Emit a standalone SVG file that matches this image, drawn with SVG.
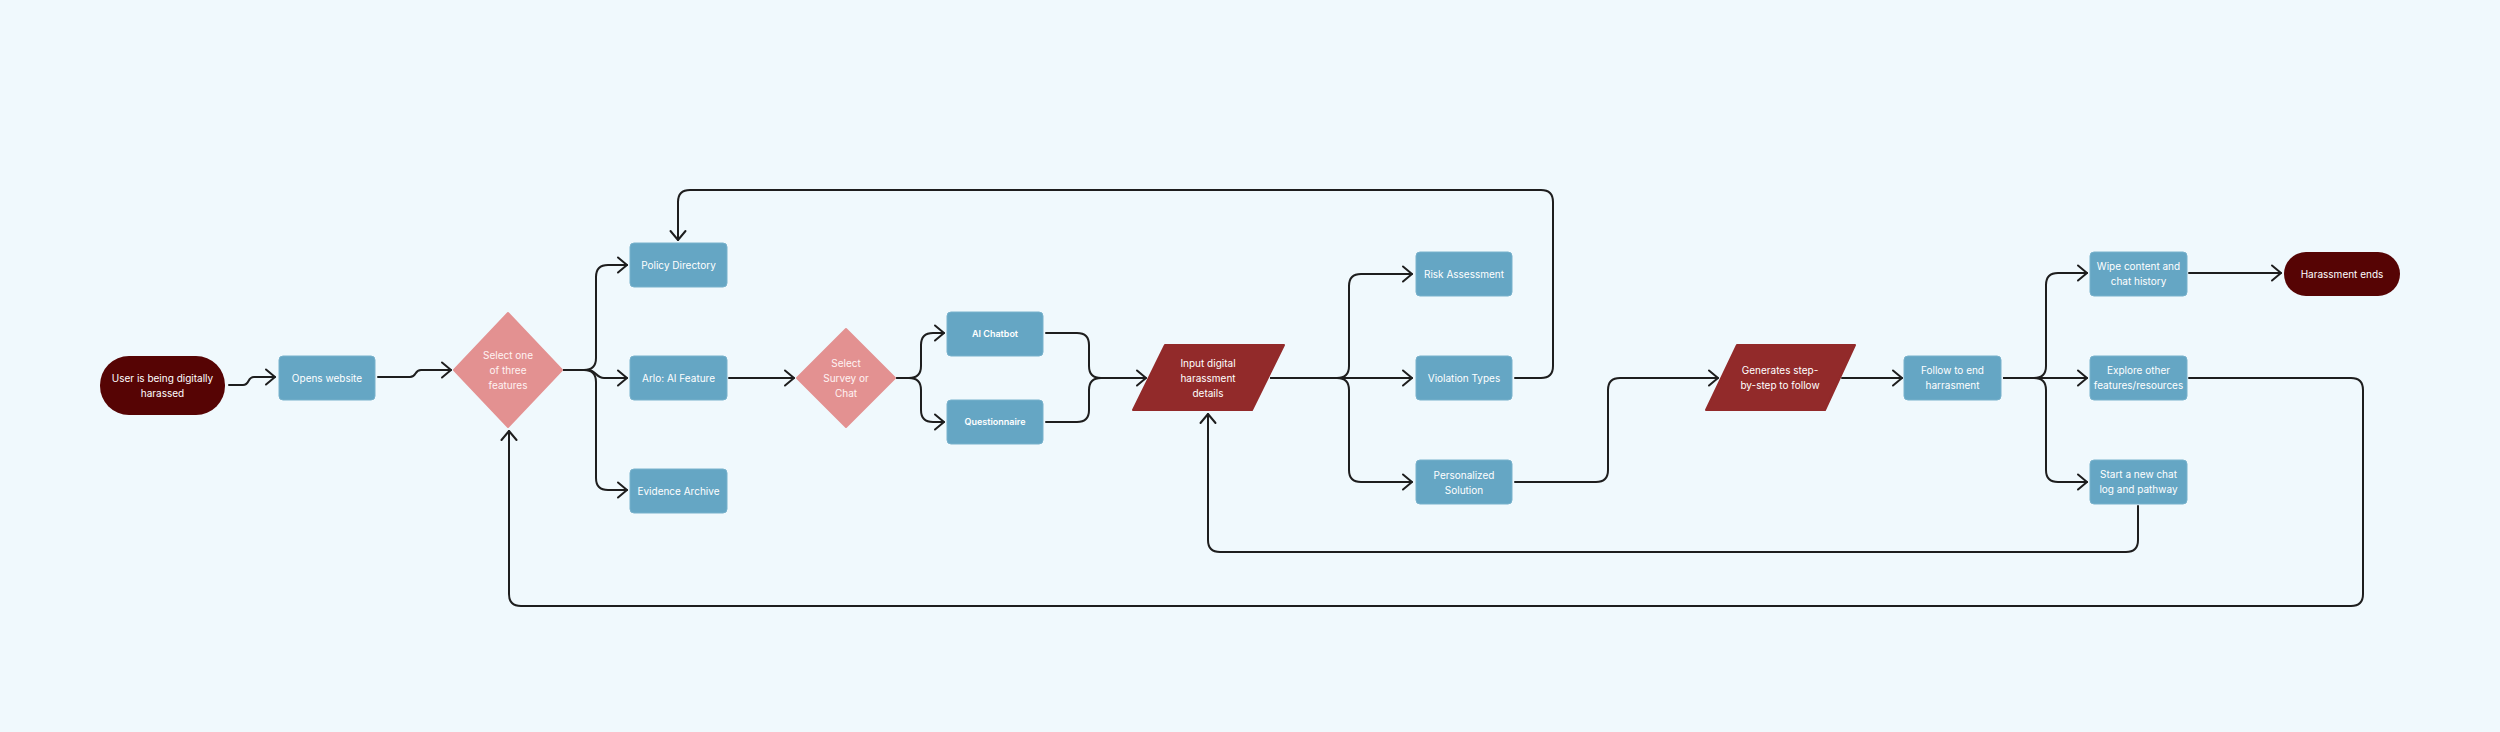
<svg xmlns="http://www.w3.org/2000/svg" width="2500" height="732" viewBox="0 0 2500 732">
<defs>
<marker id="arr" markerUnits="userSpaceOnUse" markerWidth="20" markerHeight="20" viewBox="-12 -10 14 20" refX="0" refY="0" orient="auto">
<path d="M -9 -7.5 L 0 0 L -9 7.5" fill="none" stroke="#1e1e1e" stroke-width="2" stroke-linecap="round" stroke-linejoin="round"/>
</marker>
</defs>
<style>
text{font-family:Inter,"Noto Sans","Liberation Sans",sans-serif;font-size:10px;fill:#ffffff;text-anchor:middle}
.box{fill:#65A6C4;stroke:#78B2CC;stroke-width:1}
.dia{fill:#E39191;stroke:#E39191;stroke-width:2;stroke-linejoin:round}
.par{fill:#922A2A;stroke:#922A2A;stroke-width:2;stroke-linejoin:round}
.term{fill:#560404}
.sm{font-size:9px;font-weight:600}
.dt{fill:#FFF3F3}
.c path{fill:none;stroke:#1e1e1e;stroke-width:2;stroke-linecap:round}
.a{marker-end:url(#arr)}
</style>
<rect width="2500" height="732" fill="#F0F9FD"/>
<g class="c" id="connectors">
<path class="a" d="M 229 385 H 243 C 250 385 247 377 254 377 H 275"/>
<path class="a" d="M 378 377 H 410 C 417 377 414 370 421 370 H 451"/>
<path class="a" d="M 564 370 H 584 Q 596 370 596 358 V 277 Q 596 265 608 265 H 627"/>
<path class="a" d="M 564 370 H 588 C 596 370 596 378 604 378 H 627"/>
<path class="a" d="M 564 370 H 584 Q 596 370 596 382 V 478 Q 596 490 608 490 H 627"/>
<path class="a" d="M 729 378 H 794"/>
<path class="a" d="M 897 378 H 909 Q 921 378 921 366 V 345 Q 921 333 933 333 H 944"/>
<path class="a" d="M 897 378 H 909 Q 921 378 921 390 V 410 Q 921 422 933 422 H 944"/>
<path d="M 1046 333 H 1077 Q 1089 333 1089 345 V 366 Q 1089 378 1101 378"/>
<path class="a" d="M 1046 422 H 1077 Q 1089 422 1089 410 V 390 Q 1089 378 1101 378 H 1146"/>
<path class="a" d="M 1271 378 H 1337 Q 1349 378 1349 366 V 286 Q 1349 274 1361 274 H 1412"/>
<path class="a" d="M 1271 378 H 1412"/>
<path class="a" d="M 1271 378 H 1337 Q 1349 378 1349 390 V 470 Q 1349 482 1361 482 H 1412"/>
<path class="a" d="M 1515 378 H 1541 Q 1553 378 1553 366 V 202 Q 1553 190 1541 190 H 690 Q 678 190 678 202 V 240"/>
<path class="a" d="M 1515 482 H 1596 Q 1608 482 1608 470 V 390 Q 1608 378 1620 378 H 1718"/>
<path class="a" d="M 1842 378 H 1902"/>
<path class="a" d="M 2004 378 H 2034 Q 2046 378 2046 366 V 285 Q 2046 273 2058 273 H 2087"/>
<path class="a" d="M 2004 378 H 2087"/>
<path class="a" d="M 2004 378 H 2034 Q 2046 378 2046 390 V 470 Q 2046 482 2058 482 H 2087"/>
<path class="a" d="M 2189 273 H 2281"/>
<path class="a" d="M 2189 378 H 2351 Q 2363 378 2363 390 V 594 Q 2363 606 2351 606 H 521 Q 509 606 509 594 V 431"/>
<path class="a" d="M 2138 506 V 540 Q 2138 552 2126 552 H 1220 Q 1208 552 1208 540 V 414"/>
</g>
<g id="start">
<rect class="term" x="100" y="356" width="125" height="59" rx="29"/>
<text x="162.5" y="381.5">User is being digitally</text>
<text x="162.5" y="396.5">harassed</text>
</g>
<g id="opens">
<rect class="box" x="279" y="356" width="96" height="44" rx="4"/>
<text x="327" y="381.5">Opens website</text>
</g>
<g id="select-feature">
<polygon class="dia" points="508,313 562,370 508,427 454,370"/>
<text class="dt" x="508" y="359">Select one</text>
<text class="dt" x="508" y="373.5">of three</text>
<text class="dt" x="508" y="388.5">features</text>
</g>
<g id="policy">
<rect class="box" x="630" y="243" width="97" height="44" rx="4"/>
<text x="678.5" y="268.5">Policy Directory</text>
</g>
<g id="arlo">
<rect class="box" x="630" y="356" width="97" height="44" rx="4"/>
<text x="678.5" y="381.5">Arlo: AI Feature</text>
</g>
<g id="evidence">
<rect class="box" x="630" y="469" width="97" height="44" rx="4"/>
<text x="678.5" y="494.5">Evidence Archive</text>
</g>
<g id="select-survey">
<polygon class="dia" points="846,329 895,378 846,427 797,378"/>
<text class="dt" x="846" y="366.5">Select</text>
<text class="dt" x="846" y="381.5">Survey or</text>
<text class="dt" x="846" y="396.5">Chat</text>
</g>
<g id="chatbot">
<rect class="box" x="947" y="312" width="96" height="44" rx="4"/>
<text class="sm" x="995" y="337">AI Chatbot</text>
</g>
<g id="questionnaire">
<rect class="box" x="947" y="400" width="96" height="44" rx="4"/>
<text class="sm" x="995" y="425">Questionnaire</text>
</g>
<g id="input">
<polygon class="par" points="1165,345 1284,345 1252,410 1133,410"/>
<text x="1208" y="366.5">Input digital</text>
<text x="1208" y="381.5">harassment</text>
<text x="1208" y="396.5">details</text>
</g>
<g id="risk">
<rect class="box" x="1416" y="252" width="96" height="44" rx="4"/>
<text x="1464" y="277.5">Risk Assessment</text>
</g>
<g id="violation">
<rect class="box" x="1416" y="356" width="96" height="44" rx="4"/>
<text x="1464" y="381.5">Violation Types</text>
</g>
<g id="personalized">
<rect class="box" x="1416" y="460" width="96" height="44" rx="4"/>
<text x="1464" y="478.5">Personalized</text>
<text x="1464" y="493.5">Solution</text>
</g>
<g id="generates">
<polygon class="par" points="1737,345 1855,345 1825,410 1706,410"/>
<text x="1780" y="374">Generates step-</text>
<text x="1780" y="389">by-step to follow</text>
</g>
<g id="follow">
<rect class="box" x="1904" y="356" width="97" height="44" rx="4"/>
<text x="1952.5" y="374">Follow to end</text>
<text x="1952.5" y="389">harrasment</text>
</g>
<g id="wipe">
<rect class="box" x="2090" y="252" width="97" height="44" rx="4"/>
<text x="2138.5" y="270">Wipe content and</text>
<text x="2138.5" y="285">chat history</text>
</g>
<g id="explore">
<rect class="box" x="2090" y="356" width="97" height="44" rx="4"/>
<text x="2138.5" y="374">Explore other</text>
<text x="2138.5" y="389">features/resources</text>
</g>
<g id="newchat">
<rect class="box" x="2090" y="460" width="97" height="44" rx="4"/>
<text x="2138.5" y="478">Start a new chat</text>
<text x="2138.5" y="493">log and pathway</text>
</g>
<g id="end">
<rect class="term" x="2284" y="252" width="116" height="44" rx="22"/>
<text x="2342" y="277.5">Harassment ends</text>
</g>
</svg>
